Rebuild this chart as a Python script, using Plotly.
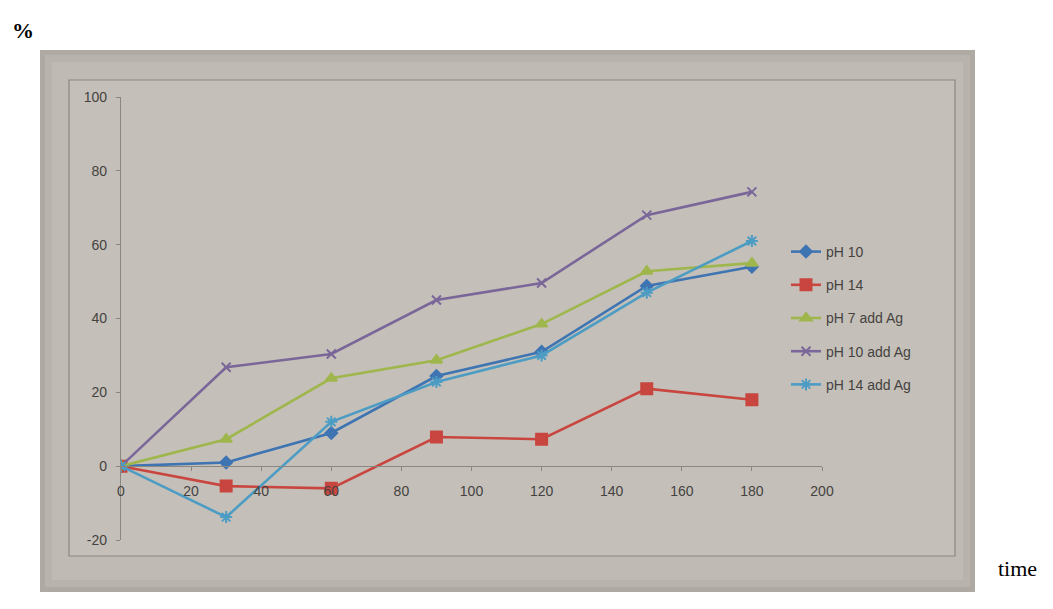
import plotly.graph_objects as go

# Sampling times and measured responses (%)
time_points = [0, 30, 60, 90, 120, 150, 180]
ph10 = [0, 1, 9, 24.4, 31, 48.8, 54]
ph14 = [0, -5.4, -6, 7.9, 7.3, 21, 18]
ph7_ag = [0, 7.3, 23.8, 28.7, 38.5, 52.8, 55]
ph10_ag = [0, 26.8, 30.4, 45, 49.6, 68, 74.3]
ph14_ag = [0, -13.8, 12, 22.8, 30, 47, 61]

series_names = ["pH 10", "pH 14", "pH 7 add Ag", "pH 10 add Ag", "pH 14 add Ag"]
series_values = [ph10, ph14, ph7_ag, ph10_ag, ph14_ag]
colors = ["#3f74b3", "#c8463f", "#9fb64c", "#7a6699", "#4c9cc4"]
symbols = ["diamond", "square", "triangle-up", "x-thin-open", "asterisk-open"]
sizes = [9, 11, 10, 9, 10]

x_ticks = [0, 20, 40, 60, 80, 100, 120, 140, 160, 180, 200]
y_ticks = [-20, 0, 20, 40, 60, 80, 100]
y_tick_text = ["-20", "0", "20", "40", "60", "80", "100"]

W, H = 1053, 609


def px_x(p):
    return p / W


def px_y(p):
    return 1 - p / H


# plot area in pixels
left, right = 121, 822
top, bottom = 97, 540
y_dom = [px_y(bottom), px_y(top)]
y_range = [-20, 100]
zero_pos = y_dom[0] + (0 - y_range[0]) / (y_range[1] - y_range[0]) * (y_dom[1] - y_dom[0])

fig = go.Figure()
for i, (name, vals) in enumerate(zip(series_names, series_values)):
    fig.add_trace(go.Scatter(
        x=time_points, y=vals, name=name, mode="lines+markers",
        legendgroup=f"g{i}",
        line=dict(color=colors[i], width=2.6),
        marker=dict(symbol=symbols[i], size=sizes[i], color=colors[i],
                    line=dict(color=colors[i], width=2)),
    ))

# printed sheet background with darker edges
shapes = []
bands = [(40, 50, 975, 592, "#aeaaa3"), (45, 55, 970, 587, "#b8b4ad"),
         (52, 62, 963, 580, "#bfbbb4")]
for x0, y0, x1, y1, c in bands:
    shapes.append(dict(type="rect", xref="paper", yref="paper", layer="below",
                       x0=px_x(x0), x1=px_x(x1), y0=px_y(y1), y1=px_y(y0),
                       fillcolor=c, line=dict(width=0)))
# chart area border
shapes.append(dict(type="rect", xref="paper", yref="paper", layer="below",
                   x0=px_x(69), x1=px_x(955), y0=px_y(556), y1=px_y(80),
                   fillcolor="#c4c0b9", line=dict(color="#8a8681", width=1.2)))

fig.update_layout(
    template="none",
    width=W, height=H,
    margin=dict(l=0, r=0, t=0, b=0, pad=0, autoexpand=False),
    paper_bgcolor="white",
    plot_bgcolor="rgba(0,0,0,0)",
    font=dict(family="Liberation Sans, Arial, sans-serif", color="#45423f", size=14),
    shapes=shapes,
    xaxis=dict(
        domain=[px_x(left), px_x(right)], range=[0, 200],
        anchor="free", position=zero_pos, automargin=False,
        tickvals=x_ticks, ticks="outside", ticklen=4, tickcolor="#8a8680",
        showline=True, linecolor="#8a8680", linewidth=1.2,
        showgrid=False, zeroline=False, ticklabelstandoff=8,
    ),
    yaxis=dict(
        domain=y_dom, range=y_range, automargin=False,
        tickvals=y_ticks, ticktext=y_tick_text,
        ticks="outside", ticklen=4, tickcolor="#8a8680",
        showline=True, linecolor="#8a8680", linewidth=1.2,
        showgrid=False, zeroline=False, ticklabelstandoff=6,
    ),
    legend=dict(
        x=px_x(786), y=px_y(236), xanchor="left", yanchor="top",
        bgcolor="rgba(0,0,0,0)", borderwidth=0,
        font=dict(size=14, color="#45423f"),
        tracegroupgap=12, traceorder="grouped",
    ),
    showlegend=True,
)

fig.add_annotation(text="<b>%</b>", xref="paper", yref="paper",
                   x=px_x(10), y=px_y(30), xanchor="left", yanchor="middle",
                   showarrow=False,
                   font=dict(family="Liberation Serif, Times New Roman, serif",
                             size=22, color="black"))
fig.add_annotation(text="time", xref="paper", yref="paper",
                   x=px_x(996), y=px_y(568), xanchor="left", yanchor="middle",
                   showarrow=False,
                   font=dict(family="Liberation Serif, Times New Roman, serif",
                             size=22, color="black"))

fig.write_html("out.html")
